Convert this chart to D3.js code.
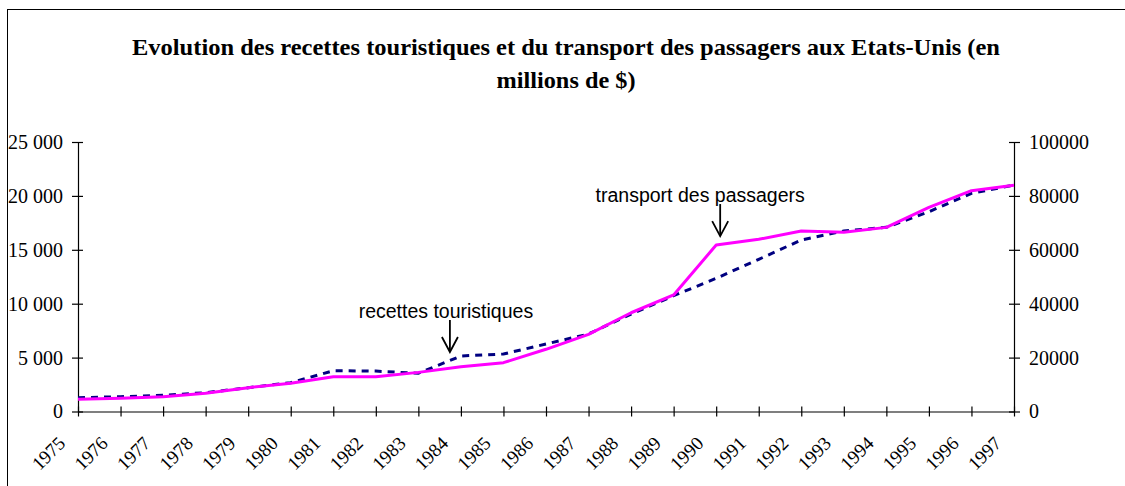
<!DOCTYPE html>
<html>
<head>
<meta charset="utf-8">
<script src="https://cdn.jsdelivr.net/npm/d3@7"></script>
<style>
  body { margin: 0; background: #fff; }
  svg { display: block; }
</style>
</head>
<body>
<div id="chart"></div>
<script>
// ---- data ----
const years = ['1975', '1976', '1977', '1978', '1979', '1980', '1981', '1982', '1983', '1984', '1985', '1986',
               '1987', '1988', '1989', '1990', '1991', '1992', '1993', '1994', '1995', '1996', '1997'];

// transport des passagers (left axis, millions $)
const transport = [1130, 1220, 1370, 1690, 2210, 2620, 3230, 3230, 3630, 4160, 4530, 5770,
                   7160, 9160, 10810, 15440, 15970, 16740, 16620, 17080, 18940, 20480, 20980];

// recettes touristiques (right axis, millions $)
const recettes = [5120, 5490, 6010, 6980, 8830, 10690, 15140, 15000, 14170, 20590, 21330, 25040,
                  28750, 36170, 42960, 49420, 56470, 63630, 66970, 68340, 74130, 80950, 84030];

const leftTicks = [0, 5000, 10000, 15000, 20000, 25000];
const rightTicks = [0, 20000, 40000, 60000, 80000, 100000];

const titleLines = [
    'Evolution des recettes touristiques et du transport des passagers aux Etats-Unis (en',
    'millions de $)'
];

const notes = [
    { label: 'recettes touristiques', year: '1984', series: 'recettes' },
    { label: 'transport des passagers', year: '1990', series: 'transport' }
];

// ---- layout ----
const W = 1125, H = 486;
const plot = { left: 78, right: 1014, top: 142, bottom: 411.5 };
const serif = '"Liberation Serif", "Times New Roman", serif';
const sans = '"Liberation Sans", Arial, sans-serif';
// where each callout sits relative to its data point
const noteLayout = {
    recettes: { dx: -11, gap: 4, textDx: -4 },
    transport: { dx: 4, gap: 9, textDx: -20 }
};

const svg = d3.select('#chart').append('svg')
    .attr('width', W)
    .attr('height', H);

// outer frame of the chart area (right and bottom edges fall outside the picture)
svg.append('rect')
    .attr('x', 7.5).attr('y', 9.5)
    .attr('width', 1140).attr('height', 500)
    .attr('fill', 'none')
    .attr('stroke', '#000')
    .attr('stroke-width', 1);

// title
const titleWidths = [868, 139];
const title = svg.append('text')
    .attr('text-anchor', 'middle')
    .attr('font-family', serif)
    .attr('font-weight', 'bold')
    .attr('font-size', '23px')
    .attr('fill', '#000');
titleLines.forEach((t, i) => {
    title.append('tspan')
        .attr('x', 566)
        .attr('y', 55 + i * 33)
        .attr('textLength', titleWidths[i])
        .attr('lengthAdjust', 'spacingAndGlyphs')
        .text(t);
});

const x = d3.scalePoint().domain(years).range([plot.left, plot.right]);
const yLeft = d3.scaleLinear().domain([0, 25000]).range([plot.bottom, plot.top]);
const yRight = d3.scaleLinear().domain([0, 100000]).range([plot.bottom, plot.top]);

const fmtSpace = d => d3.format(',')(d).replace(/,/g, ' ');

// axes (tick marks cross the axis line)
const gLeft = svg.append('g')
    .attr('transform', `translate(${plot.left},0)`)
    .call(d3.axisLeft(yLeft).tickValues(leftTicks).tickFormat(fmtSpace).tickSizeOuter(0).tickPadding(9));
gLeft.selectAll('.tick line').attr('x1', -6).attr('x2', 5);

const gRight = svg.append('g')
    .attr('transform', `translate(${plot.right},0)`)
    .call(d3.axisRight(yRight).tickValues(rightTicks).tickFormat(d3.format('d')).tickSizeOuter(0).tickPadding(9));
gRight.selectAll('.tick line').attr('x1', -5).attr('x2', 6);

const gBottom = svg.append('g')
    .attr('transform', `translate(0,${plot.bottom})`)
    .call(d3.axisBottom(x).tickSizeOuter(0));
gBottom.selectAll('.tick line').attr('y1', -5).attr('y2', 5);

svg.selectAll('.domain, .tick line')
    .attr('stroke', '#000')
    .attr('stroke-width', 1.2);
svg.selectAll('.tick text')
    .attr('font-family', serif)
    .attr('font-size', '20px')
    .attr('fill', '#000');

gBottom.selectAll('.tick text')
    .attr('text-anchor', 'end')
    .attr('dy', null)
    .attr('y', 0)
    .attr('font-size', '19px')
    .attr('transform', 'translate(-12,33) rotate(-45)');

// lines
const lineLeft = d3.line().x((d, i) => x(years[i])).y(d => yLeft(d));
const lineRight = d3.line().x((d, i) => x(years[i])).y(d => yRight(d));

svg.append('path')
    .datum(recettes)
    .attr('fill', 'none')
    .attr('stroke', '#000080')
    .attr('stroke-width', 3)
    .attr('stroke-dasharray', '7,6')
    .attr('d', lineRight);

svg.append('path')
    .datum(transport)
    .attr('fill', 'none')
    .attr('stroke', '#ff00ff')
    .attr('stroke-width', 3)
    .attr('stroke-linejoin', 'round')
    .attr('d', lineLeft);

// annotations with open arrows
notes.forEach(n => {
    const i = years.indexOf(n.year);
    const lay = noteLayout[n.series];
    const py = n.series === 'recettes' ? yRight(recettes[i]) : yLeft(transport[i]);
    const ax = x(n.year) + lay.dx;
    const tip = py - lay.gap;
    const top = tip - 32;
    const g = svg.append('g').attr('stroke', '#000').attr('stroke-width', 1.8).attr('fill', 'none');
    g.append('line').attr('x1', ax).attr('x2', ax).attr('y1', top).attr('y2', tip);
    g.append('polyline').attr('points', `${ax - 8},${tip - 15} ${ax},${tip} ${ax + 8},${tip - 15}`);
    svg.append('text')
        .attr('x', ax + lay.textDx)
        .attr('y', top - 2)
        .attr('text-anchor', 'middle')
        .attr('font-family', sans)
        .attr('font-size', '19.5px')
        .attr('fill', '#000')
        .text(n.label);
});
</script>
</body>
</html>
